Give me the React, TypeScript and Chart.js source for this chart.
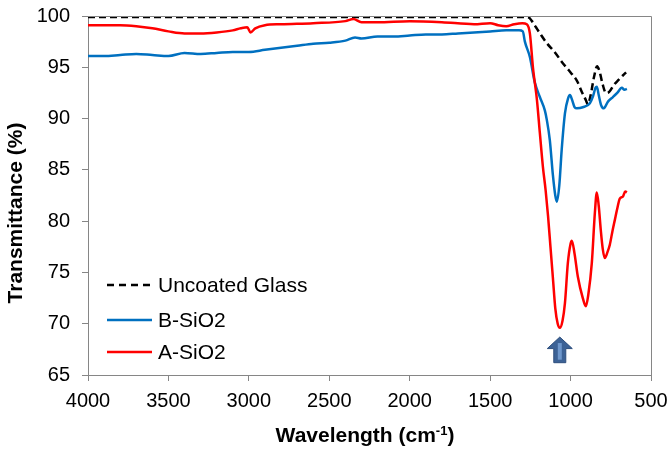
import { useEffect, useRef } from "react";
import { Chart, registerables } from "chart.js";
Chart.register(...registerables);

const FONT = "'Liberation Sans', Arial, sans-serif";

const wnGlass = [4000, 3500, 3000, 2500, 2000, 1500, 1300, 1260, 1240, 1215, 1190, 1150, 1100, 1048, 1000, 961, 930, 905, 893, 875, 855, 835, 820, 800, 780, 760, 730, 700, 675, 655];
const tGlass = [99.9, 99.9, 99.9, 99.9, 99.9, 99.9, 99.9, 99.85, 99.5, 98.9, 98.3, 97.4, 96.5, 95.4, 94.5, 93.7, 92.6, 91.8, 91.4, 92.3, 94.0, 95.1, 94.6, 93.3, 92.5, 92.6, 93.3, 93.8, 94.2, 94.5];

const wnB = [4000, 3900, 3800, 3700, 3600, 3500, 3400, 3300, 3200, 3100, 3000, 2900, 2800, 2700, 2600, 2500, 2400, 2340, 2300, 2200, 2100, 2000, 1900, 1800, 1700, 1600, 1500, 1400, 1320, 1297, 1284, 1253, 1222, 1191, 1160, 1148, 1129, 1110, 1095, 1085, 1070, 1055, 1035, 1015, 1004, 990, 975, 961, 924, 880, 860, 845, 837, 825, 810, 793, 770, 737, 710, 681, 665, 650];
const tB = [96.1, 96.1, 96.2, 96.3, 96.2, 96.1, 96.4, 96.3, 96.4, 96.5, 96.5, 96.7, 96.9, 97.1, 97.3, 97.4, 97.6, 97.9, 97.8, 98.0, 98.0, 98.1, 98.2, 98.2, 98.3, 98.4, 98.5, 98.6, 98.6, 98.5, 97.5, 96.0, 93.5, 92.1, 90.8, 89.9, 87.9, 84.5, 82.5, 81.9, 83.5, 87.0, 90.5, 92.0, 92.3, 91.8, 91.1, 91.0, 91.1, 91.5, 92.2, 93.0, 93.1, 92.3, 91.3, 91.0, 91.6, 92.1, 92.5, 93.0, 92.8, 92.9];

const wnA = [4000, 3800, 3700, 3600, 3500, 3400, 3300, 3200, 3100, 3050, 3010, 2990, 2960, 2900, 2800, 2600, 2400, 2350, 2300, 2200, 2000, 1800, 1600, 1500, 1450, 1400, 1350, 1300, 1272, 1253, 1234, 1209, 1191, 1172, 1155, 1140, 1125, 1110, 1095, 1080, 1067, 1050, 1035, 1017, 1000, 992, 975, 955, 924, 905, 890, 868, 849, 837, 825, 812, 800, 787, 770, 756, 740, 725, 710, 694, 675, 660, 650];
const tA = [99.1, 99.1, 99.0, 98.8, 98.5, 98.3, 98.3, 98.4, 98.6, 98.8, 98.9, 98.4, 98.8, 99.1, 99.2, 99.3, 99.5, 99.7, 99.4, 99.4, 99.5, 99.4, 99.2, 99.3, 99.1, 99.0, 99.2, 99.3, 99.2, 98.3, 95.0, 91.8, 88.6, 85.3, 83.0, 80.5, 77.5, 74.5, 71.5, 70.0, 69.6, 70.3, 72.0, 75.9, 77.8, 78.1, 76.8, 74.6, 72.5, 71.7, 72.8, 75.9, 80.8, 82.8, 81.5, 79.1, 77.3, 76.4, 77.0, 77.7, 79.0, 80.1, 81.2, 82.2, 82.4, 82.9, 82.8];

const seriesNames = ["Uncoated Glass", "B-SiO2", "A-SiO2"];
const seriesColors = ["#000000", "#0070C0", "#FF0000"];

const xTicks = [4000, 3500, 3000, 2500, 2000, 1500, 1000, 500];
const yTicks = [65, 70, 75, 80, 85, 90, 95, 100];

// arrow annotation (data coordinates)
const arrowWn = 1067;
const arrowTip = 68.7;
const arrowBase = 66.2;

const pts = (xs: number[], ys: number[]) => xs.map((x, i) => ({ x, y: ys[i] }));

export default function App() {
  const ref = useRef<HTMLCanvasElement>(null);
  useEffect(() => {
    const extras = {
      id: "extras",
      afterDraw(chart: any) {
        const ctx = chart.ctx;
        const a = chart.chartArea;
        const xs = chart.scales.x;
        const ys = chart.scales.y;
        ctx.save();
        // plot frame
        ctx.strokeStyle = "#868686";
        ctx.lineWidth = 1;
        ctx.beginPath();
        ctx.moveTo(a.left, a.top + 0.5);
        ctx.lineTo(a.right + 0.5, a.top + 0.5);
        ctx.lineTo(a.right + 0.5, a.bottom);
        ctx.stroke();
        // arrow
        const cx = xs.getPixelForValue(arrowWn);
        const ty = ys.getPixelForValue(arrowTip);
        const by = ys.getPixelForValue(arrowBase);
        const h = by - ty;
        const headH = h * 0.45;
        ctx.fillStyle = "#3C6296";
        ctx.strokeStyle = "#2E4F7E";
        ctx.beginPath();
        ctx.moveTo(cx, ty);
        ctx.lineTo(cx + 12.5, ty + headH);
        ctx.lineTo(cx + 6, ty + headH);
        ctx.lineTo(cx + 6, by);
        ctx.lineTo(cx - 6, by);
        ctx.lineTo(cx - 6, ty + headH);
        ctx.lineTo(cx - 12.5, ty + headH);
        ctx.closePath();
        ctx.fill();
        ctx.stroke();
        ctx.fillStyle = "#6E97CC";
        ctx.fillRect(cx - 2, ty + 6, 4, h - 9);
        // legend
        const lx0 = a.left + 19;
        const lx1 = a.left + 64;
        const rows = [285, 320, 352];
        ctx.font = `21px ${FONT}`;
        ctx.textBaseline = "middle";
        ctx.textAlign = "left";
        rows.forEach((ry, i) => {
          ctx.strokeStyle = seriesColors[i];
          ctx.lineWidth = 2.5;
          ctx.setLineDash(i === 0 ? [7, 5] : []);
          ctx.beginPath();
          ctx.moveTo(lx0, ry);
          ctx.lineTo(lx1, ry);
          ctx.stroke();
          ctx.setLineDash([]);
          ctx.fillStyle = "#000";
          ctx.fillText(seriesNames[i], lx1 + 6, ry + 1);
        });
        // x title with superscript
        const main1 = "Wavelength (cm";
        const sup = "-1";
        const main2 = ")";
        ctx.font = `bold 21px ${FONT}`;
        const w1 = ctx.measureText(main1).width;
        const w3 = ctx.measureText(main2).width;
        ctx.font = `bold 13px ${FONT}`;
        const w2 = ctx.measureText(sup).width;
        const total = w1 + w2 + w3;
        const midX = 365;
        const base = 442;
        let x = midX - total / 2;
        ctx.fillStyle = "#000";
        ctx.textBaseline = "alphabetic";
        ctx.font = `bold 21px ${FONT}`;
        ctx.fillText(main1, x, base);
        x += w1;
        ctx.font = `bold 13px ${FONT}`;
        ctx.fillText(sup, x, base - 7);
        x += w2;
        ctx.font = `bold 21px ${FONT}`;
        ctx.fillText(main2, x, base);
        // y title
        ctx.translate(16, 213);
        ctx.rotate(-Math.PI / 2);
        ctx.textAlign = "center";
        ctx.textBaseline = "middle";
        ctx.font = `bold 21px ${FONT}`;
        ctx.fillText("Transmittance (%)", 0, 0);
        ctx.restore();
      },
    };

    const chart = new Chart(ref.current!, {
      type: "line",
      data: {
        datasets: [
          { label: seriesNames[2], data: pts(wnA, tA), borderColor: seriesColors[2], borderWidth: 2.5 },
          { label: seriesNames[1], data: pts(wnB, tB), borderColor: seriesColors[1], borderWidth: 2.5 },
          { label: seriesNames[0], data: pts(wnGlass, tGlass), borderColor: seriesColors[0], borderWidth: 2.5, borderDash: [7, 4] },
        ],
      },
      options: {
        responsive: false,
        animation: false,
        layout: { padding: { top: 16, right: 18, left: 0, bottom: 0 } },
        plugins: { legend: { display: false }, tooltip: { enabled: false } },
        elements: { point: { radius: 0 }, line: { cubicInterpolationMode: "monotone", fill: false } },
        scales: {
          x: {
            type: "linear",
            reverse: true,
            min: 500,
            max: 4000,
            afterBuildTicks: (s: any) => { s.ticks = xTicks.map((v) => ({ value: v })); },
            ticks: { color: "#000", font: { family: FONT, size: 20 }, padding: 8, maxRotation: 0, callback: (v: any) => String(v) },
            grid: { drawOnChartArea: false, tickLength: 6, color: "#868686" },
            border: { color: "#868686", width: 1 },
            afterFit: (s: any) => { s.height = 74; s.paddingLeft = 0; s.paddingRight = 0; },
          },
          y: {
            type: "linear",
            min: 65,
            max: 100,
            afterBuildTicks: (s: any) => { s.ticks = yTicks.map((v) => ({ value: v })); },
            ticks: { color: "#000", font: { family: FONT, size: 20 }, padding: 12, callback: (v: any) => String(v) },
            grid: { drawOnChartArea: false, tickLength: 6, color: "#868686" },
            border: { color: "#868686", width: 1 },
            afterFit: (s: any) => { s.width = 88; s.paddingTop = 0; s.paddingBottom = 0; },
          },
        },
      },
      plugins: [extras],
    } as any);
    return () => chart.destroy();
  }, []);
  return (
    <div style={{ position: "absolute", left: 0, top: 0, width: 669, height: 449, background: "#fff" }}>
      <canvas ref={ref} width={669} height={449} style={{ display: "block" }} />
    </div>
  );
}
